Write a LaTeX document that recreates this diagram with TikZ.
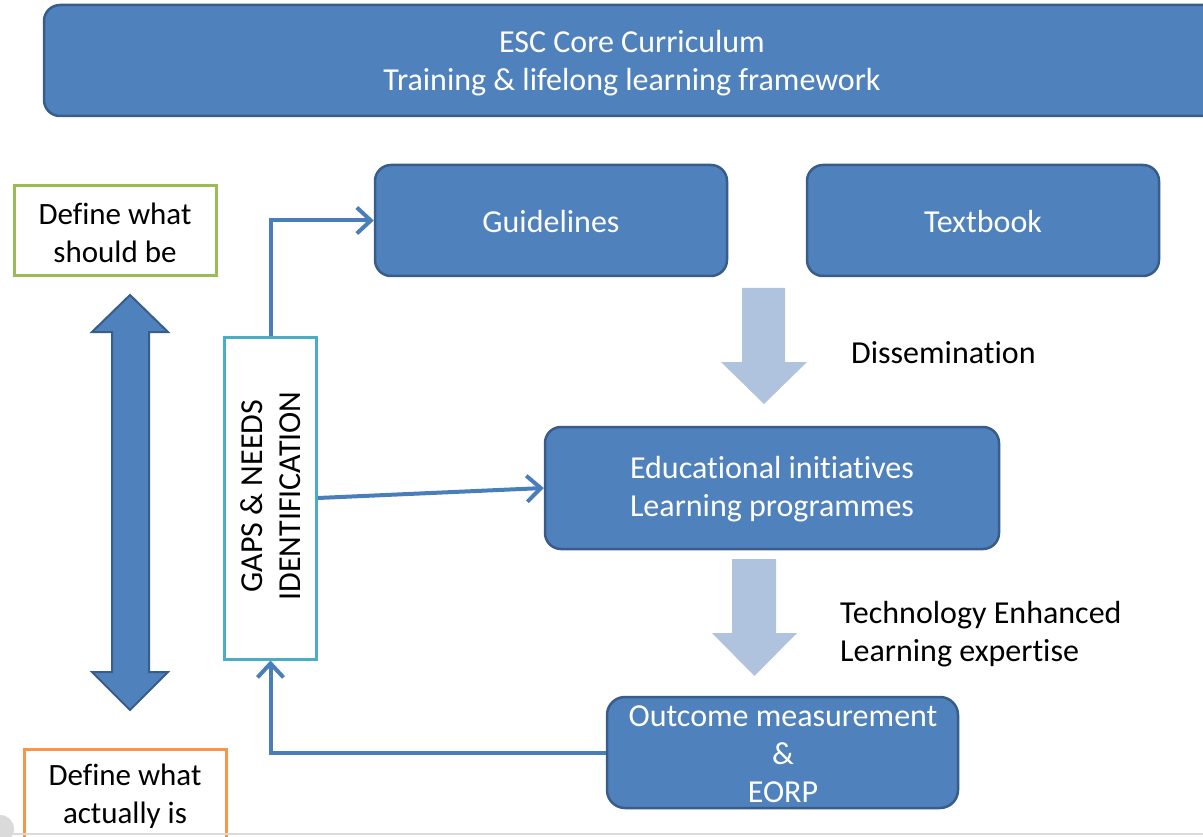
\documentclass[tikz,border=0pt]{standalone}
\usepackage{fontspec}
\setmainfont{Carlito}[Ligatures={NoCommon}]
\usetikzlibrary{arrows.meta,positioning}
\definecolor{boxfill}{HTML}{4F81BD}
\definecolor{boxdraw}{HTML}{385D8A}
\definecolor{lightarr}{HTML}{B0C3DE}
\definecolor{conn}{HTML}{4A7EBB}
\definecolor{greenb}{HTML}{9BBB59}
\definecolor{orangeb}{HTML}{F79646}
\definecolor{cyanb}{HTML}{4BACC6}
\definecolor{edgegrey}{HTML}{DADADA}
\tikzset{
  bluebox/.style={draw=boxdraw, fill=boxfill, line width=2.5pt, rounded corners=16pt,
    text=white, align=center, inner sep=0pt, font=\fontsize{32}{38}\selectfont},
  boxtext/.style={align=center, inner sep=0pt, text=white, font=\fontsize{32}{38}\selectfont},
  deftext/.style={align=center, inner sep=0pt, font=\fontsize{31}{38}\selectfont},
  defbox/.style={fill=white, line width=3pt, inner sep=0pt},
  blabel/.style={align=left, inner sep=0pt, anchor=west, font=\fontsize{32}{38}\selectfont},
  connector/.style={draw=conn, line width=4pt,
    -{Straight Barb[length=14pt, width=26pt, line width=4pt]}},
  blockarrow/.style={fill=lightarr, draw=none},
}
\begin{document}
\begin{tikzpicture}[x=1pt, y=-1pt]
\useasboundingbox (0,0) rectangle (1203,837);
\fill[white] (0,0) rectangle (1203,837);

% top bar
\node[bluebox, minimum width=1176pt, minimum height=111pt] (top) at (632,60.5) {};
\node[boxtext] (toptxt) at (632,63)
  {ESC Core Curriculum\\Training \& lifelong learning framework};

% left boxes
\node[defbox, draw=greenb, minimum width=202pt, minimum height=90pt] (should) at (115,231) {};
\node[deftext] (shouldtxt) at (115,233) {Define what\\should be};
\node[defbox, draw=orangeb, minimum width=202pt, minimum height=102pt, anchor=north] (actual) at (125,748) {};
\node[deftext] (actualtxt) at (125,796) {Define what\\actually is};

% double arrow
\filldraw[fill=boxfill, draw=boxdraw, line width=2pt, line join=miter]
  (130,295) -- (168,332) -- (149,332) -- (149,672) -- (168,672) -- (130,710)
  -- (92,672) -- (112,672) -- (112,332) -- (92,332) -- cycle;

% gaps box
\node[draw=cyanb, fill=white, line width=3pt, minimum width=92pt, minimum height=322pt,
  inner sep=0pt] (gaps) at (270.5,498) {};
\node[rotate=90, align=center, inner sep=0pt, font=\fontsize{32}{38}\selectfont] (gapstxt)
  at (271,496) {GAPS \& NEEDS\\IDENTIFICATION};

% main boxes
\node[bluebox, minimum width=352pt, minimum height=111pt] (guide) at (551,220.5) {};
\node[boxtext] (guidetxt) at (551,222) {Guidelines};
\node[bluebox, minimum width=352pt, minimum height=111pt] (text) at (983,220.5) {};
\node[boxtext] (texttxt) at (983,222) {Textbook};
\node[bluebox, minimum width=454pt, minimum height=122pt] (edu) at (772,488) {};
\node[boxtext] (edutxt) at (772,489.5) {Educational initiatives\\Learning programmes};
\node[bluebox, minimum width=351pt, minimum height=111pt, rounded corners=18pt] (out) at (782.5,752.5) {};
\node[boxtext] (outtxt) at (783,754) {Outcome measurement\\\&\\EORP};

% block arrows
\path[blockarrow] (742,288) -- (785,288) -- (785,362) -- (807,362) -- (764,404)
  -- (721,362) -- (742,362) -- cycle;
\path[blockarrow] (732,559) -- (776,559) -- (776,633) -- (797,633) -- (754.5,676)
  -- (712,633) -- (732,633) -- cycle;

% labels
\node[blabel] (diss) at (851,353) {Dissemination};
\node[blabel] (tel) at (840,634) {Technology Enhanced\\Learning expertise};

% connectors
\draw[connector] (gaps.north) |- (guide.west);
\draw[connector] (gaps.east) -- (edu.west);
\draw[connector] (out.west) -| (gaps.south);

% slide edge
\draw[edgegrey, line width=2pt] (0,834) -- (1203,834);
\fill[edgegrey] (0,829) circle (14pt);
\end{tikzpicture}
\end{document}
